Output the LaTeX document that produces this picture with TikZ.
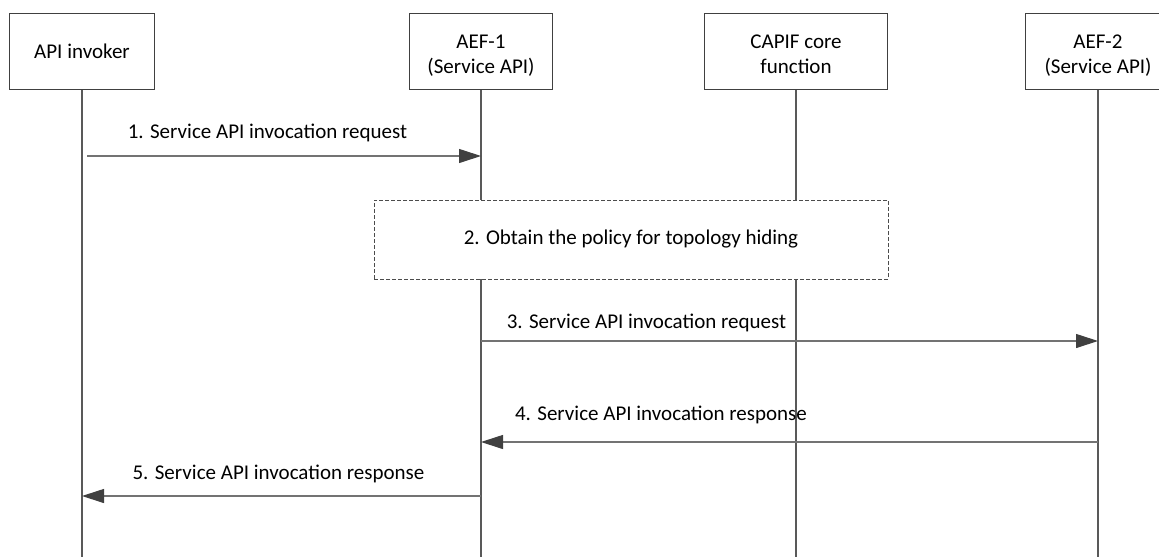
\documentclass[tikz,border=0pt]{standalone}
\usepackage{fontspec}
\setmainfont{Carlito}
\usetikzlibrary{arrows.meta}
\begin{document}
\begin{tikzpicture}[x=1pt,y=-1pt,
    font=\fontsize{21}{25}\selectfont,
    entity/.style={draw=black!75, line width=1pt, fill=white, align=center,
        minimum height=76pt, inner sep=0pt},
    twoline/.style={text height=49.4pt, text depth=5pt},
    lifeline/.style={draw=black!65, line width=1.2pt},
    msg/.style={draw=black!55, line width=1.1pt,
        -{Triangle[length=22pt,width=14pt,color=black!75]}},
    msglabel/.style={inner sep=0pt}]
    \useasboundingbox (0,0) rectangle (1159,557);
    % participants
    \node [entity, minimum width=145pt] (inv) at (82,51.3) {API invoker};
    \node [entity, twoline, minimum width=143pt] (aef1) at (481,51.3) {AEF-1\\(Service API)};
    \node [entity, twoline, minimum width=183pt] (capif) at (796,51.3) {CAPIF core\\function};
    \node [entity, twoline, minimum width=145pt] (aef2) at (1098,51.3) {AEF-2\\(Service API)};
    % lifelines
    \foreach \p in {inv,aef1,capif,aef2}
        \draw [lifeline] (\p.south) -- (\p |- 0,557);
    % step 2
    \node [draw=black!70, dash pattern=on 4pt off 2pt, line width=1pt, fill=white,
        minimum width=514pt, minimum height=79pt] (policy) at (631,239.5)
        {2. Obtain the policy for topology hiding};
    % messages
    \draw [msg] ([xshift=5pt]inv.center |- 0,156) -- (aef1 |- 0,156);
    \node [msglabel] (l1) at (267.5,133) {1. Service API invocation request};
    \draw [msg] (aef1 |- 0,341) -- (aef2 |- 0,341);
    \node [msglabel] (l3) at (646.5,323) {3. Service API invocation request};
    \draw [msg] (aef2 |- 0,442) -- (aef1 |- 0,442);
    \node [msglabel] (l4) at (661,415) {4. Service API invocation response};
    \draw [msg] (aef1 |- 0,496) -- (inv |- 0,496);
    \node [msglabel] (l5) at (278.5,474) {5. Service API invocation response};
\end{tikzpicture}
\end{document}
